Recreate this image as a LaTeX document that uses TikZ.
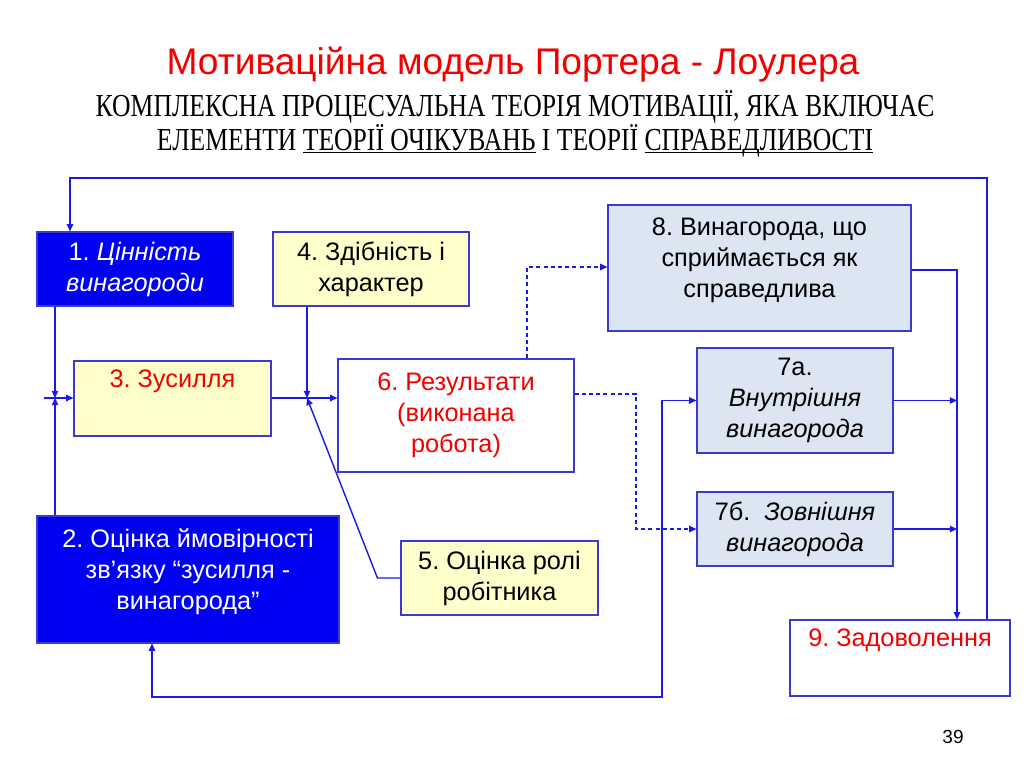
\documentclass[tikz,border=0pt]{standalone}
\usepackage{fontspec}
\setmainfont{Liberation Sans}
\newfontfamily\subfont[FakeStretch=0.8]{Liberation Serif}
\usepackage{tikz}
\usetikzlibrary{arrows.meta,calc}
\frenchspacing
\definecolor{ln}{HTML}{1A1AE6}
\definecolor{bord}{HTML}{3A3AD0}
\definecolor{deep}{HTML}{0000F2}
\definecolor{pale}{HTML}{FFFFCC}
\definecolor{sky}{HTML}{DCE6F2}
\definecolor{hot}{HTML}{F20000}
\newcommand{\bxfont}{\fontsize{18}{22}\selectfont}
\newcommand{\flatul}[1]{\underline{\smash{#1}\vphantom{Т}}}
\tikzset{
  >={Triangle[length=1.8mm,width=1.6mm]},
  box/.style={draw=bord, line width=0.8pt, align=center, font=\bxfont, inner sep=2pt},
  darkbox/.style={box, fill=deep, text=white},
  ybox/.style={box, fill=pale},
  gbox/.style={box, fill=sky},
  wbox/.style={box, fill=white, text=hot},
  l/.style={->, line width=1pt, draw=ln},
  dl/.style={->, line width=0.9pt, draw=ln, dash pattern=on 1mm off 0.8mm},
}
\begin{document}
\begin{tikzpicture}[x=0.25mm,y=-0.25mm]
  \useasboundingbox (0,0) rectangle (1024,767);
  % heading
  \node[text=hot,font=\fontsize{26.4}{30}\selectfont] (ttl) at (513,65) {Мотиваційна модель Портера - Лоулера};
  \node[font=\subfont\fontsize{22.8}{21.5}\selectfont,align=center] (sub) at (515,122)
    {КОМПЛЕКСНА ПРОЦЕСУАЛЬНА ТЕОРІЯ МОТИВАЦІЇ, ЯКА ВКЛЮЧАЄ\\
     ЕЛЕМЕНТИ \flatul{ТЕОРІЇ ОЧІКУВАНЬ} І ТЕОРІЇ \flatul{СПРАВЕДЛИВОСТІ}};
  % blocks
  \node[darkbox,minimum width=49mm,minimum height=18.5mm] (one) at (135,269) {1. \textit{Цінність}\\ \textit{винагороди}};
  \node[ybox,minimum width=49mm,minimum height=18.5mm] (four) at (371,269) {4. Здібність і\\ характер};
  \node[ybox,text=hot,minimum width=49.25mm,minimum height=18.75mm] (three) at (172.5,398.5) {3. Зусилля\\ \strut};
  \node[wbox,minimum width=59mm,minimum height=28.25mm] (six) at (456,415.5) {6. Результати\\ (виконана\\ робота)};
  \node[darkbox,text depth=15pt,minimum width=75.5mm,minimum height=31.75mm] (two) at (188,579.5) {2. Оцінка ймовірності\\ зв’язку “зусилля -\\ винагорода”};
  \node[ybox,minimum width=49.25mm,minimum height=18.5mm] (five) at (499.5,578) {5. Оцінка ролі\\ робітника};
  \node[gbox,text depth=15pt,minimum width=75.75mm,minimum height=31.5mm] (eight) at (759.5,268) {8. Винагорода, що\\ сприймається як\\ справедлива};
  \node[gbox,minimum width=49mm,minimum height=26.25mm] (sva) at (795,400.5) {7а.\\ \textit{Внутрішня}\\ \textit{винагорода}};
  \node[gbox,minimum width=49mm,minimum height=18.5mm] (svb) at (795,529) {7б.\ \ \textit{Зовнішня}\\ \textit{винагорода}};
  \node[wbox,minimum width=55mm,minimum height=19mm] (nine) at (900,658) {9. Задоволення\\ \strut};
  \node[font=\fontsize{13.5}{16}\selectfont] (pg) at (953,737) {39};
  % turning points
  \coordinate (tr) at (987,178); \coordinate (tl) at (70,178);
  \coordinate (jl) at (55,398); \coordinate (jl0) at (44,398);
  \coordinate (jm) at (307,398);
  \coordinate (d1) at (527,267); \coordinate (d2) at (636,394);
  \coordinate (bl) at (662,697); \coordinate (b2) at (152,697);
  \coordinate (rr) at (957,270);
  % links
  \draw[l](nine.north -| tr)--(tr)--(tl)--(one.north -| tl);
  \draw[l](one.south -| jl)--(jl);\draw[l](two.north -| jl)--(jl);
  \draw[l](jl0)--(three.west |- jl0);
  \draw[l](three.east |- jm)--(six.west |- jm);
  \draw[l](four.south -| jm)--(jm);
  \draw[l](five.west)--++(-23,0)--(jm);
  \draw[dl](six.north -| d1)--(d1)--(eight.west |- d1);
  \draw[dl](six.east |- d2)--(d2)|-(svb.west);
  \draw[l,<->](two.south -| b2)--(b2)--(bl)|-(sva.west);
  \draw[l](eight.east |- rr)--(rr)--(nine.north -| rr);
  \draw[l](sva.east)--(sva.east -| rr);
  \draw[l](svb.east)--(svb.east -| rr);
\end{tikzpicture}
\end{document}
